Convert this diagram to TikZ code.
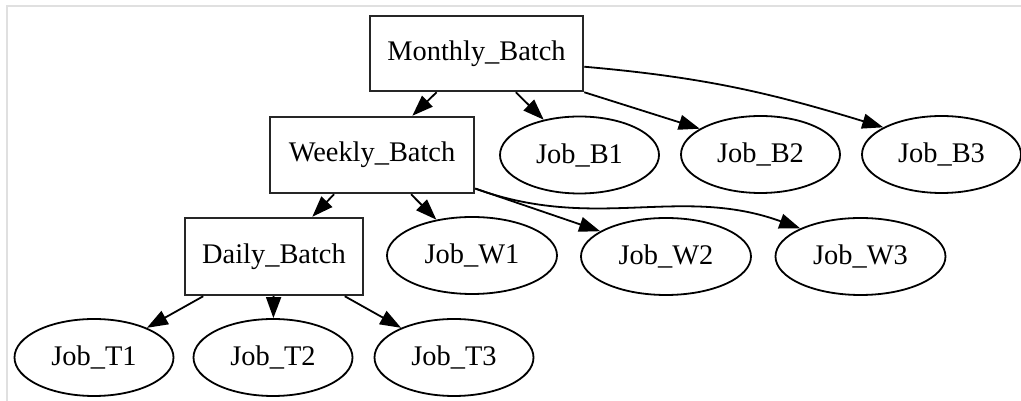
\documentclass[tikz,border=0pt]{standalone}
\usepackage{fontspec}
\setmainfont{Liberation Serif}
\usetikzlibrary{shapes.geometric,arrows.meta}
\begin{document}
\begin{tikzpicture}[x=1pt,y=1pt,
  lbl/.style={font=\fontsize{28.4}{34}\selectfont},
  boxnode/.style={lbl, draw=black!85, line width=2.5pt, rectangle, inner sep=0pt},
  ovalnode/.style={lbl, draw=black, line width=1.8pt, ellipse, inner sep=0pt, minimum width=159pt, minimum height=77pt},
  wovalnode/.style={ovalnode, minimum width=170pt},
  edge/.style={line width=1.8pt, -{Triangle[length=21pt,width=15pt]}},
  framegray/.style={draw=black!12, line width=1.2pt}]
\fill[white] (0,0) rectangle (1021,401);
\useasboundingbox (0,0) rectangle (1021,401);
\draw[framegray] (7,0) -- (7,395) -- (1021,395);
% boxes
\node[boxnode, minimum width=213pt, minimum height=75pt] (M) at (476.5,347.5) {Monthly\_Batch};
\node[boxnode, minimum width=204pt, minimum height=76pt] (W) at (372,246) {Weekly\_Batch};
\node[boxnode, minimum width=178pt, minimum height=77pt] (D) at (274,144.5) {Daily\_Batch};
% ellipses
\node[ovalnode] (B1) at (579.5,246) {Job\_B1};
\node[ovalnode] (B2) at (760.5,246.5) {Job\_B2};
\node[ovalnode] (B3) at (941.5,246.5) {Job\_B3};
\node[wovalnode] (W1) at (472,145.5) {Job\_W1};
\node[wovalnode] (W2) at (666,144.5) {Job\_W2};
\node[wovalnode] (W3) at (860.5,144.5) {Job\_W3};
\node[ovalnode] (T1) at (94,43.5) {Job\_T1};
\node[ovalnode] (T2) at (273,43.5) {Job\_T2};
\node[ovalnode] (T3) at (454,43.5) {Job\_T3};
% edges
\draw[edge] (M) -- (W);
\draw[edge] (M) -- (B1);
\draw[edge] (M.south east) -- (B2.157);
\draw[edge] (M.-7.2) to[out=-5,in=163] (B3.155);
\draw[edge] (W) -- (D);
\draw[edge] (W) -- (W1);
\draw[edge] (W.-18) -- (W2.159);
\draw[edge] (W.-18) to[out=-20,in=160] (W3.155);
\draw[edge] (D) -- (T1);
\draw[edge] (D) -- (T2);
\draw[edge] (D) -- (T3);
\end{tikzpicture}
\end{document}
